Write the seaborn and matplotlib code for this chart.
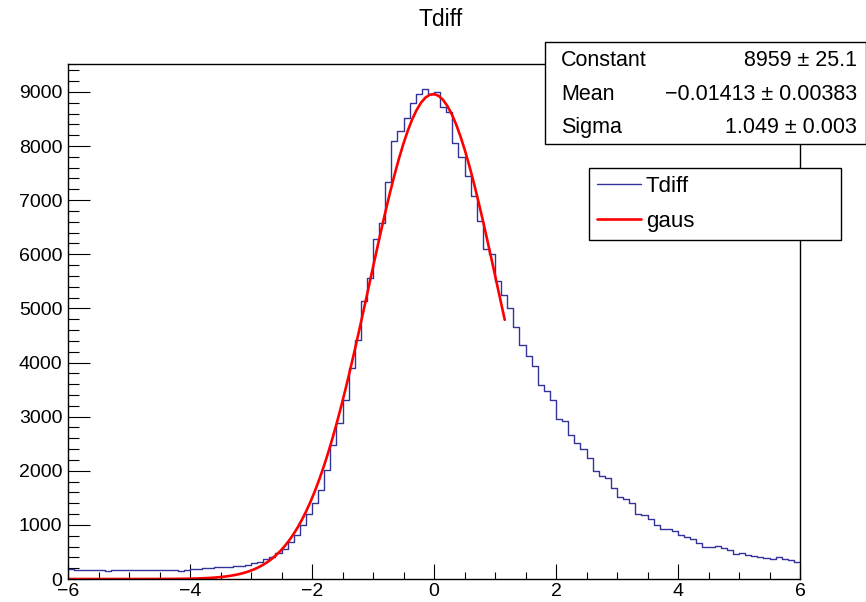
import numpy as np
import pandas as pd
import matplotlib
matplotlib.use("Agg")
import matplotlib.pyplot as plt
import seaborn as sns
from matplotlib.patches import Rectangle
from matplotlib.lines import Line2D
from matplotlib.ticker import FixedLocator, MultipleLocator

# ---------------- data ----------------
bin_lo, bin_hi, n_bins = -6.0, 6.0, 120
counts = [
    185, 160, 165, 170, 160, 175, 155, 170, 165, 160,
    170, 165, 170, 160, 165, 170, 160, 165, 155, 175,
    185, 190, 200, 205, 215, 225, 230, 235, 245, 260,
    290, 320, 364, 401, 474, 548, 690, 813, 998, 1195,
    1398, 1645, 2014, 2476, 2877, 3308, 3893, 4417, 5144, 5556,
    6277, 6585, 7343, 8094, 8285, 8513, 8790, 8963, 9062, 8957,
    8993, 8729, 8636, 8063, 7805, 7454, 7078, 6616, 6092, 6006,
    5513, 5240, 5010, 4650, 4324, 4121, 3936, 3585, 3480, 3308,
    2957, 2920, 2661, 2507, 2396, 2230, 2002, 1909, 1860, 1676,
    1509, 1478, 1398, 1195, 1185, 1110, 1005, 924, 924, 893,
    813, 770, 733, 671, 597, 585, 610, 567, 536, 462,
    474, 444, 425, 413, 382, 370, 401, 364, 351, 314,
]

# gaussian fit parameters shown in the stat box
fit_const = 8959.0
fit_mean = -0.01413
fit_sigma = 1.049
fit_lo, fit_hi = -6.0, 1.16

title = "Tdiff"
stat_names = ["Constant", "Mean", "Sigma"]
stat_values = ["8959 \u00b1 25.1", "\u22120.01413 \u00b1 0.00383", "1.049 \u00b1 0.003"]
legend_labels = ["Tdiff", "gaus"]
x_ticks = [-6, -4, -2, 0, 2, 4, 6]
y_ticks = [0, 1000, 2000, 3000, 4000, 5000, 6000, 7000, 8000, 9000]

# ---------------- style ----------------
sns.set_theme(style="white")
plt.rcParams["font.family"] = ["Liberation Sans", "DejaVu Sans"]
plt.rcParams["axes.edgecolor"] = "black"
plt.rcParams["axes.linewidth"] = 1.0
plt.rcParams["text.color"] = "black"
plt.rcParams["xtick.color"] = "black"
plt.rcParams["ytick.color"] = "black"

W, H = 866, 602
fig = plt.figure(figsize=(W / 100, H / 100), dpi=100)
fig.patch.set_facecolor("white")

def fx(px):
    return px / W

def fy(py):
    return 1 - py / H

ax = fig.add_axes([fx(68), fy(579), (800 - 68) / W, (579 - 64) / H])

hist_color = "#333399"
bin_width = (bin_hi - bin_lo) / n_bins
centers = bin_lo + bin_width * (np.arange(n_bins) + 0.5)
df = pd.DataFrame({"x": centers, "w": counts})
sns.histplot(data=df, x="x", weights="w", binwidth=bin_width, binrange=(bin_lo, bin_hi),
             element="step", fill=False, color=hist_color, linewidth=1.0, ax=ax)

xf = np.linspace(fit_lo, fit_hi, 100)
yf = fit_const * np.exp(-0.5 * ((xf - fit_mean) / fit_sigma) ** 2)
sns.lineplot(x=xf, y=yf, color="red", linewidth=1.9, ax=ax, sort=False, estimator=None)

ax.set_xlim(bin_lo, bin_hi)
ax.set_ylim(0, 1.05 * max(counts))
ax.set_xlabel("")
ax.set_ylabel("")
ax.xaxis.set_major_locator(FixedLocator(x_ticks))
ax.xaxis.set_minor_locator(MultipleLocator(0.5))
ax.yaxis.set_major_locator(FixedLocator(y_ticks))
ax.yaxis.set_minor_locator(MultipleLocator(200))
ax.tick_params(axis="both", which="both", direction="in", color="black",
               width=0.8, labelsize=14, labelcolor="black",
               bottom=True, left=True, top=False, right=False)
ax.tick_params(axis="y", which="major", length=15.5, pad=4)
ax.tick_params(axis="y", which="minor", length=8)
ax.tick_params(axis="x", which="major", length=10.8, pad=3)
ax.tick_params(axis="x", which="minor", length=5)
for s in ax.spines.values():
    s.set_visible(True)
    s.set_color("black")
    s.set_linewidth(1.0)

# legend
handles = [Line2D([], [], color=hist_color, lw=1.0), Line2D([], [], color="red", lw=1.9)]
leg = ax.legend(handles, legend_labels, loc="upper left",
                bbox_to_anchor=(fx(589), fy(240), (841 - 589) / W, (240 - 168) / H),
                bbox_transform=fig.transFigure, mode="expand", borderaxespad=0,
                fancybox=False, edgecolor="black", framealpha=1, fontsize=16,
                handlelength=2.0, handletextpad=0.2, labelspacing=0.65, borderpad=0.35)
leg.get_frame().set_linewidth(1.0)
leg.set_zorder(10)
for t in leg.get_texts():
    t.set_color("black")

# stat box
box = Rectangle((fx(545), fy(144)), (865.5 - 545) / W, (144 - 42) / H,
                transform=fig.transFigure, facecolor="white", edgecolor="black",
                linewidth=1.0, zorder=10)
fig.patches.append(box)
row_y = [60, 94.5, 127.5]
for name, val, py in zip(stat_names, stat_values, row_y):
    fig.text(fx(561), fy(py), name, ha="left", va="center", fontsize=15.5, zorder=11)
    fig.text(fx(857), fy(py), val, ha="right", va="center", fontsize=15.5, zorder=11)

fig.text(fx(441), fy(20), title, ha="center", va="center", fontsize=16.5)

fig.savefig("out.png", dpi=100)
